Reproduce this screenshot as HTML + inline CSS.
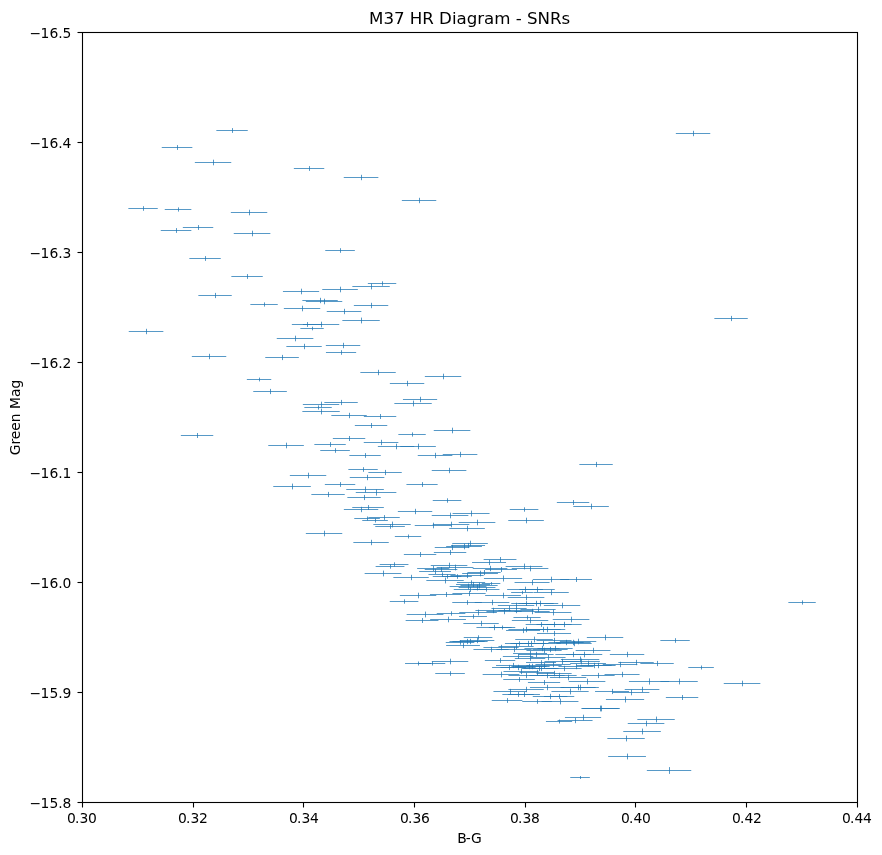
<!DOCTYPE html>
<html lang="en"><head><meta charset="utf-8"><title>M37 HR Diagram - SNRs</title>
<style>html,body{margin:0;padding:0;background:#fff}body{width:882px;height:855px;overflow:hidden}svg{display:block;will-change:transform;opacity:0.9999}text{font-family:"DejaVu Sans","Liberation Sans",sans-serif;fill:#000}</style></head><body>
<svg width="882" height="855" viewBox="0 0 882 855">
<rect width="882" height="855" fill="#fff"/>
<g stroke="#1f77b4" stroke-width="0.75" fill="none" id="bars">
<path d="M216.35 130.5H247.75M675.85 133.5H710.25M161.75 147.5H192.35M194.85 162.5H231.25M293.85 168.5H324.25M343.75 177.5H378.35M401.85 200.5H436.25M128.35 208.5H157.75M164.75 209.5H191.35M230.85 212.5H267.25M182.85 227.5H213.25M160.75 230.5H191.35M233.75 233.5H270.35M325.25 250.5H354.85M189.35 258.5H220.75M231.35 276.5H262.75M367.85 283.5H396.25M352.35 286.5H389.75M322.25 289.5H357.85M282.95 291.5H319.15M198.35 295.5H231.75M302.35 300.5H337.75M305.85 301.5H342.25M250.35 304.5H277.75M353.85 305.5H388.25M283.85 308.5H320.25M326.75 311.5H361.35M714.35 318.5H747.75M342.35 320.5H379.75M302.85 324.5H339.25M291.85 324.5H322.25M300.35 328.5H323.75M128.75 331.5H163.35M276.75 338.5H313.35M325.85 345.5H360.25M286.35 346.5H321.75M325.95 352.5H356.15M191.85 356.5H226.25M265.25 357.5H298.85M360.35 372.5H395.75M424.85 376.5H461.25M246.85 379.5H271.25M389.85 383.5H424.25M253.25 391.5H286.85M402.95 399.5H437.15M324.35 402.5H357.75M394.35 403.5H431.75M302.85 404.5H339.25M304.35 407.5H331.75M302.35 411.5H339.75M331.35 415.5H366.75M363.85 416.5H396.25M354.85 425.5H387.25M433.75 430.5H470.35M398.35 434.5H425.75M180.85 435.5H213.25M332.85 438.5H365.25M363.75 442.5H398.35M314.35 444.5H345.75M268.25 445.5H303.85M377.85 446.5H414.25M400.25 446.5H435.85M320.25 450.5H349.85M442.75 454.5H477.35M349.35 455.5H380.75M417.75 455.5H452.35M579.35 464.5H612.75M348.35 469.5H377.75M431.75 470.5H466.35M368.35 472.5H401.75M289.85 475.5H326.25M349.75 477.5H384.35M324.85 484.5H355.25M406.45 484.5H437.65M273.25 486.5H310.85M346.25 489.5H383.85M355.75 492.5H396.35M311.35 494.5H344.75M347.35 497.5H380.75M432.75 500.5H461.35M556.85 502.5H589.25M573.25 506.5H608.85M352.25 507.5H383.85M343.85 509.5H378.25M509.75 509.5H538.35M397.85 511.5H432.25M452.55 513.5H489.55M431.75 515.5H468.35M368.35 517.5H399.75M354.25 518.5H379.85M508.25 520.5H543.85M362.25 520.5H387.85M458.75 522.5H495.35M373.35 524.5H410.75M432.75 524.5H469.35M414.75 525.5H451.35M375.25 526.5H404.85M449.25 528.5H484.85M305.85 533.5H342.25M394.85 536.5H421.25M353.35 542.5H388.75M452.25 543.5H487.85M451.05 545.5H485.05M446.15 546.5H481.95M434.75 547.5H469.35M433.85 552.5H466.25M403.85 554.5H436.25M483.65 559.5H516.45M472.05 562.5H506.05M379.65 564.5H408.45M430.75 565.5H467.35M505.65 566.5H542.45M375.65 566.5H404.45M436.65 567.5H473.45M417.15 568.5H448.95M511.75 568.5H548.35M472.75 568.5H507.35M485.15 569.5H516.95M424.75 569.5H457.35M419.15 571.5H450.95M467.45 572.5H500.65M462.15 573.5H497.95M364.65 573.5H401.45M428.45 574.5H455.65M450.45 575.5H483.65M432.75 576.5H461.35M442.25 576.5H471.85M393.35 577.5H428.75M483.95 578.5H522.15M560.15 579.5H591.95M532.95 579.5H569.15M426.35 580.5H463.75M456.95 582.5H485.15M514.55 582.5H549.55M481.75 583.5H500.35M456.05 584.5H490.05M460.45 585.5H497.65M449.65 586.5H486.45M458.65 587.5H495.45M453.75 589.5H486.35M472.65 589.5H499.45M507.15 589.5H542.95M519.35 589.5H554.75M533.35 592.5H568.75M511.15 592.5H532.95M452.45 593.5H485.65M429.95 594.5H462.15M485.15 595.5H520.95M399.85 595.5H436.25M507.75 597.5H544.35M389.75 601.5H418.35M452.25 602.5H481.85M474.75 602.5H509.35M788.35 602.5H815.75M511.25 603.5H540.85M521.85 603.5H558.25M518.45 603.5H553.65M497.85 605.5H534.25M543.85 605.5H580.25M491.45 608.5H526.65M520.45 609.5H555.65M475.45 610.5H510.65M498.45 610.5H533.65M514.45 611.5H549.65M486.45 611.5H521.65M534.65 612.5H571.45M459.25 612.5H496.85M436.75 613.5H465.35M406.65 614.5H443.45M459.15 616.5H486.95M513.45 617.5H540.65M430.15 619.5H465.95M552.75 619.5H589.35M405.65 620.5H438.45M511.85 620.5H548.25M463.35 623.5H498.75M536.45 624.5H571.65M546.45 624.5H581.65M525.65 624.5H556.45M476.45 627.5H511.65M488.85 627.5H515.25M508.45 629.5H543.65M525.45 629.5H560.65M528.85 629.5H565.25M506.05 630.5H540.05M537.05 633.5H571.05M463.75 637.5H492.35M586.85 637.5H623.25M515.25 639.5H552.85M536.55 640.5H571.55M660.35 640.5H689.75M459.75 640.5H494.35M449.45 641.5H484.65M452.45 641.5H487.65M559.85 641.5H596.25M445.75 642.5H474.35M548.45 642.5H583.65M555.45 642.5H590.65M504.95 643.5H533.15M510.45 643.5H545.65M513.45 643.5H548.65M525.45 643.5H560.65M556.45 643.5H591.65M446.15 645.5H479.95M498.45 646.5H533.65M483.45 647.5H518.65M524.45 648.5H559.65M537.45 648.5H572.65M473.45 649.5H508.65M496.45 649.5H531.65M532.45 649.5H567.65M575.65 650.5H610.45M526.45 650.5H561.65M513.05 653.5H547.05M565.85 654.5H602.25M609.85 654.5H644.25M518.45 654.5H553.65M555.35 654.5H590.75M502.85 656.5H533.25M530.55 657.5H565.55M514.85 658.5H545.25M560.85 659.5H599.25M484.85 660.5H515.25M562.25 661.5H599.85M431.85 661.5H468.25M544.45 661.5H579.65M526.05 662.5H556.05M618.35 662.5H653.75M570.15 663.5H605.95M640.35 663.5H673.75M418.85 663.5H445.25M405.05 663.5H431.05M535.45 664.5H570.65M602.75 664.5H637.35M526.45 665.5H561.65M576.45 665.5H611.65M580.45 665.5H615.65M496.05 665.5H530.05M514.45 666.5H549.65M558.45 666.5H593.65M511.45 666.5H546.65M492.05 667.5H526.05M500.45 667.5H535.65M688.25 667.5H713.85M521.45 668.5H556.65M523.45 668.5H558.65M546.45 668.5H581.65M503.45 671.5H538.65M519.45 672.5H554.65M435.25 673.5H464.85M536.45 673.5H571.65M604.55 674.5H639.55M482.65 674.5H519.45M581.45 675.5H614.65M508.45 675.5H543.65M529.45 675.5H564.65M541.45 675.5H576.65M549.85 677.5H586.25M503.25 679.5H534.85M568.75 681.5H605.35M628.95 681.5H669.15M660.35 681.5H697.75M527.95 682.5H560.15M723.75 683.5H760.35M561.25 687.5H598.85M529.95 687.5H564.15M560.45 687.5H595.65M508.35 689.5H543.75M624.75 689.5H659.35M595.05 691.5H629.05M493.45 691.5H526.65M551.45 691.5H588.65M612.75 692.5H649.35M502.35 694.5H533.75M508.15 694.5H539.95M543.85 696.5H574.25M532.75 696.5H567.35M665.85 697.5H698.25M605.95 699.5H644.15M491.75 700.5H522.35M522.25 701.5H551.85M541.65 701.5H578.45M581.35 708.5H618.75M582.25 708.5H619.85M564.95 717.5H601.15M637.35 719.5H674.75M557.55 720.5H592.55M545.95 721.5H572.15M627.75 723.5H664.35M623.25 731.5H660.85M607.35 738.5H644.75M608.15 756.5H645.95M646.85 770.5H691.25M570.25 777.5H589.85"/>
<path d="M232.5 128.1V132.9M693.5 130.8V136.2M177.5 145.1V149.9M213.5 159.7V165.3M309.5 166.1V170.9M361.5 174.8V180.2M419.5 197.8V203.2M143.5 206.2V210.8M178.5 207.4V211.6M249.5 209.7V215.3M198.5 225.1V229.9M176.5 228.1V232.9M252.5 230.7V236.3M340.5 248.2V252.8M205.5 256.1V260.9M247.5 274.1V278.9M382.5 281.3V285.7M371.5 283.6V289.4M340.5 286.7V292.3M301.5 288.7V294.3M215.5 292.9V298.1M320.5 297.8V303.2M324.5 298.7V304.3M264.5 302.4V306.6M371.5 302.8V308.2M302.5 305.7V311.3M344.5 308.8V314.2M731.5 315.9V321.1M361.5 317.6V323.4M321.5 321.7V327.3M307.5 322.1V326.9M312.5 326.7V330.3M146.5 328.8V334.2M295.5 335.7V341.3M343.5 342.8V348.2M304.5 343.8V349.2M341.5 350.2V354.8M209.5 353.8V359.2M282.5 354.9V360.1M378.5 369.8V375.2M443.5 373.7V379.3M259.5 377.6V381.4M407.5 380.8V386.2M270.5 388.9V394.1M420.5 396.8V402.2M341.5 399.9V405.1M413.5 400.6V406.4M321.5 401.7V407.3M318.5 405.4V409.6M321.5 408.6V414.4M349.5 412.8V418.2M380.5 414.0V419.0M371.5 423.0V428.0M452.5 427.7V433.3M412.5 432.4V436.6M197.5 433.0V438.0M349.5 436.0V441.0M381.5 439.8V445.2M330.5 442.1V446.9M286.5 442.7V448.3M396.5 443.7V449.3M418.5 443.7V449.3M335.5 448.2V452.8M460.5 451.8V457.2M365.5 453.1V457.9M435.5 452.8V458.2M596.5 461.9V467.1M363.5 467.2V471.8M449.5 467.8V473.2M385.5 469.9V475.1M308.5 472.7V478.3M367.5 474.8V480.2M340.5 482.1V486.9M422.5 482.1V486.9M292.5 483.6V489.4M365.5 486.6V492.4M376.5 489.4V495.6M328.5 491.9V497.1M364.5 494.9V500.1M447.5 498.3V502.7M573.5 500.0V505.0M591.5 503.7V509.3M368.5 505.1V509.9M361.5 506.8V512.2M524.5 507.3V511.7M415.5 508.8V514.2M471.5 510.6V516.4M450.5 512.7V518.3M384.5 515.1V519.9M367.5 516.5V520.5M526.5 517.7V523.3M375.5 518.5V522.5M477.5 519.7V525.3M392.5 521.6V527.4M451.5 521.7V527.3M433.5 522.7V528.3M390.5 524.2V528.8M467.5 525.7V531.3M324.5 530.7V536.3M408.5 534.5V538.5M371.5 539.8V545.2M470.5 540.7V546.3M468.5 542.9V548.1M464.5 543.7V549.3M452.5 544.8V550.2M450.5 550.0V555.0M420.5 552.0V557.0M500.5 557.0V562.0M489.5 559.9V565.1M394.5 562.3V566.7M449.5 562.7V568.3M524.5 563.6V569.4M390.5 564.3V568.7M455.5 564.6V570.4M433.5 566.0V571.0M530.5 565.7V571.3M490.5 565.8V571.2M501.5 567.0V572.0M441.5 567.0V572.0M435.5 569.0V574.0M484.5 569.9V575.1M480.5 570.7V576.3M383.5 570.6V576.4M442.5 572.4V576.6M467.5 572.9V578.1M447.5 574.3V578.7M457.5 574.2V578.8M411.5 574.8V580.2M503.5 575.5V581.5M576.5 577.0V582.0M551.5 576.7V582.3M445.5 577.6V583.4M471.5 580.3V584.7M532.5 579.8V585.2M491.5 582.1V584.9M473.5 581.9V587.1M479.5 582.6V588.4M468.5 583.6V589.4M477.5 584.6V590.4M470.5 587.0V592.0M486.5 587.4V591.6M525.5 586.7V592.3M537.5 586.8V592.2M551.5 589.8V595.2M522.5 590.8V594.2M469.5 590.9V596.1M446.5 592.0V597.0M503.5 592.7V598.3M418.5 592.7V598.3M526.5 594.7V600.3M404.5 599.3V603.7M467.5 600.2V604.8M492.5 599.8V605.2M802.5 600.4V604.6M526.5 601.2V605.8M540.5 600.7V606.3M536.5 600.8V606.2M516.5 602.7V608.3M562.5 602.7V608.3M509.5 605.8V611.2M538.5 606.8V612.2M493.5 607.8V613.2M516.5 607.8V613.2M532.5 608.8V614.2M504.5 608.8V614.2M553.5 609.6V615.4M478.5 609.6V615.4M451.5 611.3V615.7M425.5 611.6V617.4M473.5 614.3V618.7M527.5 615.4V619.6M448.5 616.7V622.3M571.5 616.7V622.3M422.5 618.0V623.0M530.5 617.7V623.3M481.5 620.8V626.2M554.5 621.8V627.2M564.5 621.8V627.2M541.5 622.1V626.9M494.5 624.8V630.2M502.5 625.5V629.5M526.5 626.8V632.2M543.5 626.8V632.2M547.5 626.7V632.3M523.5 627.9V633.1M554.5 630.9V636.1M478.5 635.3V639.7M605.5 634.7V640.3M534.5 636.6V642.4M554.5 637.8V643.2M675.5 638.2V642.8M477.5 637.8V643.2M467.5 638.8V644.2M470.5 638.8V644.2M578.5 638.7V644.3M460.5 640.3V644.7M566.5 639.8V645.2M573.5 639.8V645.2M519.5 641.3V645.7M528.5 640.8V646.2M531.5 640.8V646.2M543.5 640.8V646.2M574.5 640.8V646.2M463.5 642.9V648.1M516.5 643.8V649.2M501.5 644.8V650.2M542.5 645.8V651.2M555.5 645.8V651.2M491.5 646.8V652.2M514.5 646.8V652.2M550.5 646.8V652.2M593.5 647.8V653.2M544.5 647.8V653.2M530.5 650.9V656.1M584.5 651.7V657.3M627.5 651.8V657.2M536.5 651.8V657.2M573.5 651.8V657.2M518.5 654.1V658.9M548.5 654.8V660.2M530.5 656.1V660.9M580.5 656.5V662.5M500.5 658.1V662.9M581.5 658.6V664.4M450.5 658.7V664.3M562.5 658.8V664.2M541.5 660.2V664.8M636.5 659.8V665.2M588.5 660.7V666.3M657.5 660.9V666.1M432.5 661.5V665.5M418.5 661.5V665.5M553.5 661.8V667.2M620.5 661.8V667.2M544.5 662.8V668.2M594.5 662.8V668.2M598.5 662.8V668.2M513.5 662.9V668.1M532.5 663.8V669.2M576.5 663.8V669.2M529.5 663.8V669.2M509.5 664.9V670.1M518.5 664.8V670.2M701.5 665.5V669.5M539.5 665.8V671.2M541.5 665.8V671.2M564.5 665.8V671.2M521.5 668.8V674.2M537.5 669.8V675.2M450.5 671.2V675.8M554.5 670.8V676.2M622.5 671.8V677.2M501.5 671.6V677.4M598.5 672.9V678.1M526.5 672.8V678.2M547.5 672.8V678.2M559.5 672.8V678.2M568.5 674.7V680.3M519.5 677.1V681.9M587.5 678.7V684.3M649.5 678.4V684.6M679.5 678.6V684.4M544.5 680.0V685.0M742.5 680.7V686.3M580.5 684.6V690.4M547.5 684.8V690.2M578.5 684.8V690.2M526.5 686.8V692.2M642.5 686.8V692.2M612.5 688.9V694.1M510.5 688.9V694.1M570.5 688.6V694.4M631.5 689.7V695.3M518.5 692.1V696.9M524.5 692.0V697.0M559.5 694.1V698.9M550.5 693.8V699.2M682.5 695.0V700.0M625.5 696.5V702.5M507.5 698.1V702.9M537.5 699.2V703.8M560.5 698.6V704.4M600.5 705.6V711.4M601.5 705.6V711.4M583.5 714.7V720.3M656.5 716.6V722.4M575.5 717.8V723.2M559.5 719.5V723.5M646.5 720.7V726.3M642.5 728.6V734.4M626.5 735.6V741.4M627.5 753.6V759.4M669.5 767.1V773.9M580.5 776.0V779.0"/>
</g>
<rect x="82.5" y="32.5" width="775.0" height="770.0" fill="none" stroke="#000" stroke-width="1.1"/>
<g stroke="#000" stroke-width="1.1">
<line x1="82.5" y1="802.5" x2="82.5" y2="807.5"/>
<line x1="193.5" y1="802.5" x2="193.5" y2="807.5"/>
<line x1="303.5" y1="802.5" x2="303.5" y2="807.5"/>
<line x1="414.5" y1="802.5" x2="414.5" y2="807.5"/>
<line x1="525.5" y1="802.5" x2="525.5" y2="807.5"/>
<line x1="635.5" y1="802.5" x2="635.5" y2="807.5"/>
<line x1="746.5" y1="802.5" x2="746.5" y2="807.5"/>
<line x1="857.5" y1="802.5" x2="857.5" y2="807.5"/>
<line x1="82.5" y1="32.5" x2="77.5" y2="32.5"/>
<line x1="82.5" y1="142.5" x2="77.5" y2="142.5"/>
<line x1="82.5" y1="252.5" x2="77.5" y2="252.5"/>
<line x1="82.5" y1="362.5" x2="77.5" y2="362.5"/>
<line x1="82.5" y1="472.5" x2="77.5" y2="472.5"/>
<line x1="82.5" y1="582.5" x2="77.5" y2="582.5"/>
<line x1="82.5" y1="692.5" x2="77.5" y2="692.5"/>
<line x1="82.5" y1="802.5" x2="77.5" y2="802.5"/>
</g>
<g font-size="13.89px">
<text x="67.0" y="823.3" letter-spacing="-0.37" dx="0 -0.5 0.5 0">0.30</text>
<text x="178.0" y="823.3" letter-spacing="-0.37" dx="0 -0.5 0.5 0">0.32</text>
<text x="289.0" y="823.3" letter-spacing="-0.37" dx="0 -0.5 0.5 0">0.34</text>
<text x="400.0" y="823.3" letter-spacing="-0.37" dx="0 -0.5 0.5 0">0.36</text>
<text x="510.0" y="823.3" letter-spacing="-0.37" dx="0 -0.5 0.5 0">0.38</text>
<text x="621.0" y="823.3" letter-spacing="-0.37" dx="0 -0.5 0.5 0">0.40</text>
<text x="732.0" y="823.3" letter-spacing="-0.37" dx="0 -0.5 0.5 0">0.42</text>
<text x="842.0" y="823.3" letter-spacing="-0.37" dx="0 -0.5 0.5 0">0.44</text>
<text x="29.5" y="37.8" dx="0.1 -0.7 0.15 0 -0.15">−16.5</text>
<text x="29.5" y="147.8" dx="0.1 -0.7 0.15 0 -0.15">−16.4</text>
<text x="29.5" y="257.8" dx="0.1 -0.7 0.15 0 -0.15">−16.3</text>
<text x="29.5" y="367.8" dx="0.1 -0.7 0.15 0 -0.15">−16.2</text>
<text x="29.5" y="477.8" dx="0.1 -0.7 0.15 0 -0.15">−16.1</text>
<text x="29.5" y="587.8" dx="0.1 -0.7 0.15 0 -0.15">−16.0</text>
<text x="29.5" y="697.8" dx="0.1 -0.7 0.15 0 -0.15">−15.9</text>
<text x="29.5" y="807.8" dx="0.1 -0.7 0.15 0 -0.15">−15.8</text>
<text x="457.15" y="842.5" dx="0 -1 -0.3">B-G</text>
<text transform="translate(19.5 417.5) rotate(-90)" text-anchor="middle">Green Mag</text>
</g>
<text x="469.6" y="24.3" text-anchor="middle" font-size="16.67px" letter-spacing="-0.03">M37 HR Diagram - SNRs</text>
</svg></body></html>
